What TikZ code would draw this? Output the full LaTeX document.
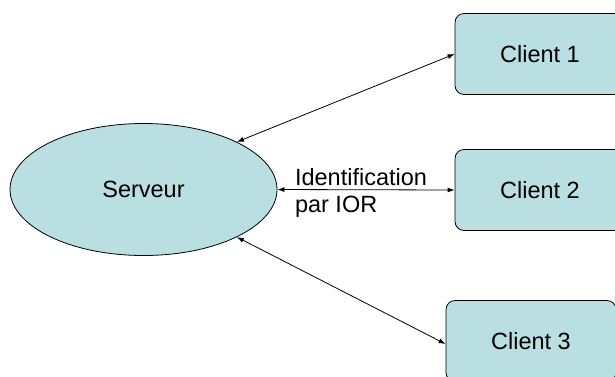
\documentclass[tikz,border=0pt]{standalone}
\usepackage{fontspec}
\setmainfont{Liberation Sans}
\usetikzlibrary{shapes.geometric,arrows.meta}
\definecolor{boxfill}{RGB}{186,223,227}
\tikzset{
  client/.style={draw, rounded corners=9pt, fill=boxfill, minimum width=170pt, minimum height=81pt, line width=0.8pt},
  serveur/.style={draw, ellipse, fill=boxfill, minimum width=267pt, minimum height=132pt, inner sep=0pt, line width=0.8pt},
  lien/.style={{Latex[length=7pt,width=5pt]}-{Latex[length=7pt,width=5pt]}, line width=0.8pt}
}
\begin{document}
\begin{tikzpicture}[x=1pt, y=-1pt, font=\fontsize{23.5}{27}\selectfont]
  \useasboundingbox (0,0) rectangle (615,376);
  \node[serveur] (srv) at (143.5,189.5) {Serveur};
  \node[client] (c1) at (540,54) {Client 1};
  \node[client] (c2) at (540,190) {Client 2};
  \node[client] (c3) at (531,341) {Client 3};
  \draw[lien] (srv.27) to (c1.west);
  \draw[lien] (srv.east) to node[midway, xshift=-5pt, yshift=-3pt, align=left] (ior) {Identification\\par IOR} (c2.west);
  \draw[lien] (srv.-27) to ([yshift=-3pt]c3.west);
\end{tikzpicture}
\end{document}
